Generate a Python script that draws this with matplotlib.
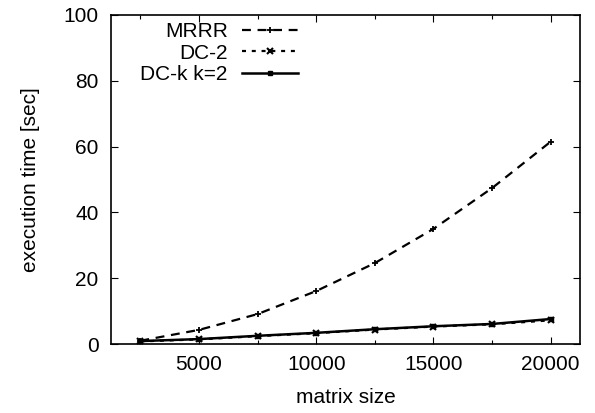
import matplotlib
matplotlib.use("Agg")
import matplotlib.pyplot as plt
from matplotlib.ticker import MultipleLocator

plt.rcParams['font.family'] = ['Liberation Sans', 'DejaVu Sans']
plt.rcParams['font.size'] = 15

sizes = [2500, 5000, 7500, 10000, 12500, 15000, 17500, 20000]
mrrr = [1.0, 4.3, 9.1, 16.1, 24.6, 35.0, 47.4, 61.5]
dc2 = [0.8, 1.4, 2.4, 3.3, 4.4, 5.3, 6.0, 7.2]
dck = [0.9, 1.5, 2.5, 3.4, 4.5, 5.4, 6.1, 7.6]

fig = plt.figure(figsize=(5.95, 4.13), dpi=100)
ax = fig.add_axes([0.1866, 0.167, 0.7882, 0.7967])

ax.plot(sizes, mrrr, color='black', lw=1.6, dashes=(4, 3), marker='+',
        ms=4, mew=1.3, label='MRRR')
ax.plot(sizes, dc2, color='black', lw=1.6, dashes=(1.8, 2.6), marker='x',
        ms=4, mew=1.5, label='DC-2')
ax.plot(sizes, dck, color='black', lw=1.8, marker='s', ms=3.5,
        label='DC-k k=2')

ax.set_xlim(1250, 21250)
ax.set_ylim(0, 100)
ax.xaxis.set_major_locator(MultipleLocator(5000))
ax.xaxis.set_minor_locator(MultipleLocator(2500))
ax.yaxis.set_major_locator(MultipleLocator(20))
ax.tick_params(which='both', direction='in', top=True, right=True, width=0.8)
ax.tick_params(which='major', length=5)
ax.tick_params(axis='x', which='major', pad=8)
ax.tick_params(axis='y', which='major', pad=9)
ax.tick_params(which='minor', length=3)
for s in ax.spines.values():
    s.set_linewidth(1.2)

ax.set_xlabel('matrix size', labelpad=10)
ax.set_ylabel('execution time [sec]', labelpad=17)

ax.legend(loc='upper right', bbox_to_anchor=((298 - 111) / 469, 0.978),
          frameon=False, markerfirst=False, handlelength=2.7,
          handletextpad=0.67, labelspacing=0.12, borderaxespad=0, borderpad=0)

fig.savefig('out.png', dpi=100)
